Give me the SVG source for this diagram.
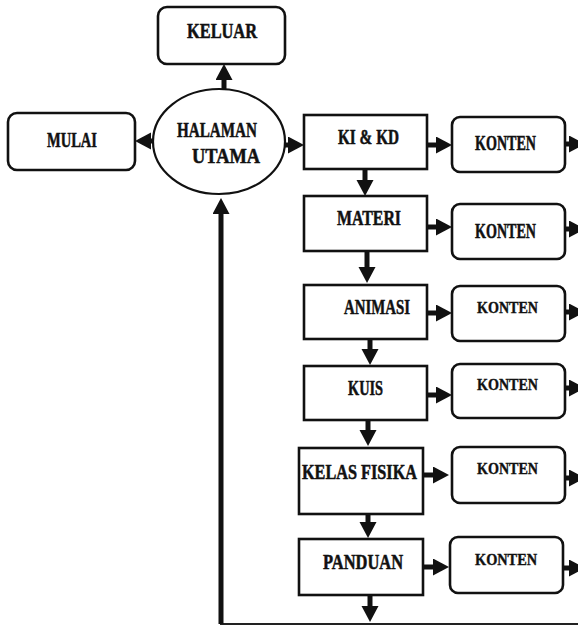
<svg xmlns="http://www.w3.org/2000/svg" width="578" height="625" viewBox="0 0 578 625">
  <style>
    .box { fill: #fff; stroke: #111; stroke-width: 2.6; }
    .oval { fill: #fff; stroke: #111; stroke-width: 2.2; }
    .lbl { font-family: "Liberation Serif", "DejaVu Serif", serif; font-weight: bold; fill: #111; stroke: #111; stroke-width: 0.5; font-size: 20px; }
    .sm { font-size: 16px; stroke-width: 0.4; }
    .flow { stroke: #111; stroke-width: 5; fill: none; marker-end: url(#head); }
    .rule { stroke: #222; stroke-width: 2; fill: none; }
  </style>
  <defs>
    <marker id="head" markerUnits="userSpaceOnUse" markerWidth="17" markerHeight="18" refX="1" refY="8.5" orient="auto">
      <path d="M0,0 L16,8.5 L0,17 z" fill="#111"/>
    </marker>
  </defs>
  <rect width="578" height="625" fill="#fff"/>

  <!-- connectors -->
  <g id="connectors">
    <line class="flow" x1="224" y1="90" x2="224" y2="79"/>
    <line class="flow" x1="154" y1="141" x2="150" y2="141"/>
    <line class="flow" x1="285" y1="145" x2="289" y2="145"/>
    <!-- return line back to home -->
    <line class="rule" x1="220" y1="624" x2="578" y2="624"/>
    <line class="flow" x1="221" y1="624" x2="221" y2="213"/>
    <!-- menu chain -->
    <line class="flow" x1="365" y1="169" x2="365" y2="181"/>
    <line class="flow" x1="367" y1="251" x2="367" y2="268"/>
    <line class="flow" x1="370" y1="339" x2="370" y2="350"/>
    <line class="flow" x1="368" y1="420" x2="368" y2="431"/>
    <line class="flow" x1="368" y1="514" x2="368" y2="523"/>
    <line class="flow" x1="370" y1="595" x2="370" y2="607"/>
    <!-- menu to content -->
    <line class="flow" x1="427" y1="145" x2="437" y2="145"/>
    <line class="flow" x1="427" y1="227" x2="437" y2="227"/>
    <line class="flow" x1="427" y1="313" x2="437" y2="313"/>
    <line class="flow" x1="427" y1="395" x2="437" y2="395"/>
    <line class="flow" x1="423" y1="475" x2="434" y2="475"/>
    <line class="flow" x1="423" y1="567" x2="434" y2="567"/>
    <!-- content onward -->
    <line class="flow" x1="565" y1="144" x2="570" y2="144"/>
    <line class="flow" x1="565" y1="229" x2="570" y2="229"/>
    <line class="flow" x1="565" y1="312" x2="570" y2="312"/>
    <line class="flow" x1="565" y1="388" x2="570" y2="388"/>
    <line class="flow" x1="565" y1="478" x2="570" y2="478"/>
    <line class="flow" x1="563" y1="568" x2="570" y2="568"/>
  </g>

  <g id="keluar">
    <rect class="box" x="158" y="7" width="127" height="57" rx="9"/>
    <text class="lbl" x="187" y="38" textLength="70" lengthAdjust="spacingAndGlyphs">KELUAR</text>
  </g>
  <g id="mulai">
    <rect class="box" x="8" y="113" width="127" height="57" rx="9"/>
    <text class="lbl" x="47" y="147" textLength="50" lengthAdjust="spacingAndGlyphs">MULAI</text>
  </g>
  <g id="halaman-utama">
    <ellipse class="oval" cx="219" cy="141.5" rx="66" ry="52.5"/>
    <text class="lbl" x="177" y="137" textLength="80" lengthAdjust="spacingAndGlyphs">HALAMAN</text>
    <text class="lbl" x="192" y="163" textLength="68" lengthAdjust="spacingAndGlyphs">UTAMA</text>
  </g>

  <g id="ki-kd">
    <rect class="box" x="304" y="115" width="123" height="54"/>
    <text class="lbl" x="338" y="144" textLength="61" lengthAdjust="spacingAndGlyphs">KI &amp; KD</text>
  </g>
  <g id="materi">
    <rect class="box" x="304" y="196" width="123" height="55"/>
    <text class="lbl" x="337" y="225" textLength="64" lengthAdjust="spacingAndGlyphs">MATERI</text>
  </g>
  <g id="animasi">
    <rect class="box" x="304" y="285" width="123" height="54"/>
    <text class="lbl" x="344" y="314" textLength="66" lengthAdjust="spacingAndGlyphs">ANIMASI</text>
  </g>
  <g id="kuis">
    <rect class="box" x="304" y="366" width="123" height="54"/>
    <text class="lbl" x="348" y="395" textLength="35" lengthAdjust="spacingAndGlyphs">KUIS</text>
  </g>
  <g id="kelas-fisika">
    <rect class="box" x="299" y="448" width="124" height="66"/>
    <text class="lbl" x="302" y="479" textLength="115" lengthAdjust="spacingAndGlyphs">KELAS FISIKA</text>
  </g>
  <g id="panduan">
    <rect class="box" x="299" y="539" width="124" height="56"/>
    <text class="lbl" x="323" y="569" textLength="80" lengthAdjust="spacingAndGlyphs">PANDUAN</text>
  </g>

  <g id="konten-1">
    <rect class="box" x="452" y="117" width="113" height="55" rx="8"/>
    <text class="lbl" x="475" y="150" font-size="19" textLength="61" lengthAdjust="spacingAndGlyphs">KONTEN</text>
  </g>
  <g id="konten-2">
    <rect class="box" x="452" y="204" width="113" height="55" rx="8"/>
    <text class="lbl" x="475" y="238" font-size="19" textLength="61" lengthAdjust="spacingAndGlyphs">KONTEN</text>
  </g>
  <g id="konten-3">
    <rect class="box" x="452" y="286" width="113" height="55" rx="8"/>
    <text class="lbl sm" x="477" y="313" textLength="61" lengthAdjust="spacingAndGlyphs">KONTEN</text>
  </g>
  <g id="konten-4">
    <rect class="box" x="452" y="364" width="113" height="54" rx="8"/>
    <text class="lbl sm" x="477" y="390" textLength="61" lengthAdjust="spacingAndGlyphs">KONTEN</text>
  </g>
  <g id="konten-5">
    <rect class="box" x="452" y="447" width="113" height="56" rx="8"/>
    <text class="lbl sm" x="477" y="474" textLength="61" lengthAdjust="spacingAndGlyphs">KONTEN</text>
  </g>
  <g id="konten-6">
    <rect class="box" x="450" y="537" width="113" height="56" rx="8"/>
    <text class="lbl sm" x="475" y="565" textLength="62" lengthAdjust="spacingAndGlyphs">KONTEN</text>
  </g>
</svg>
